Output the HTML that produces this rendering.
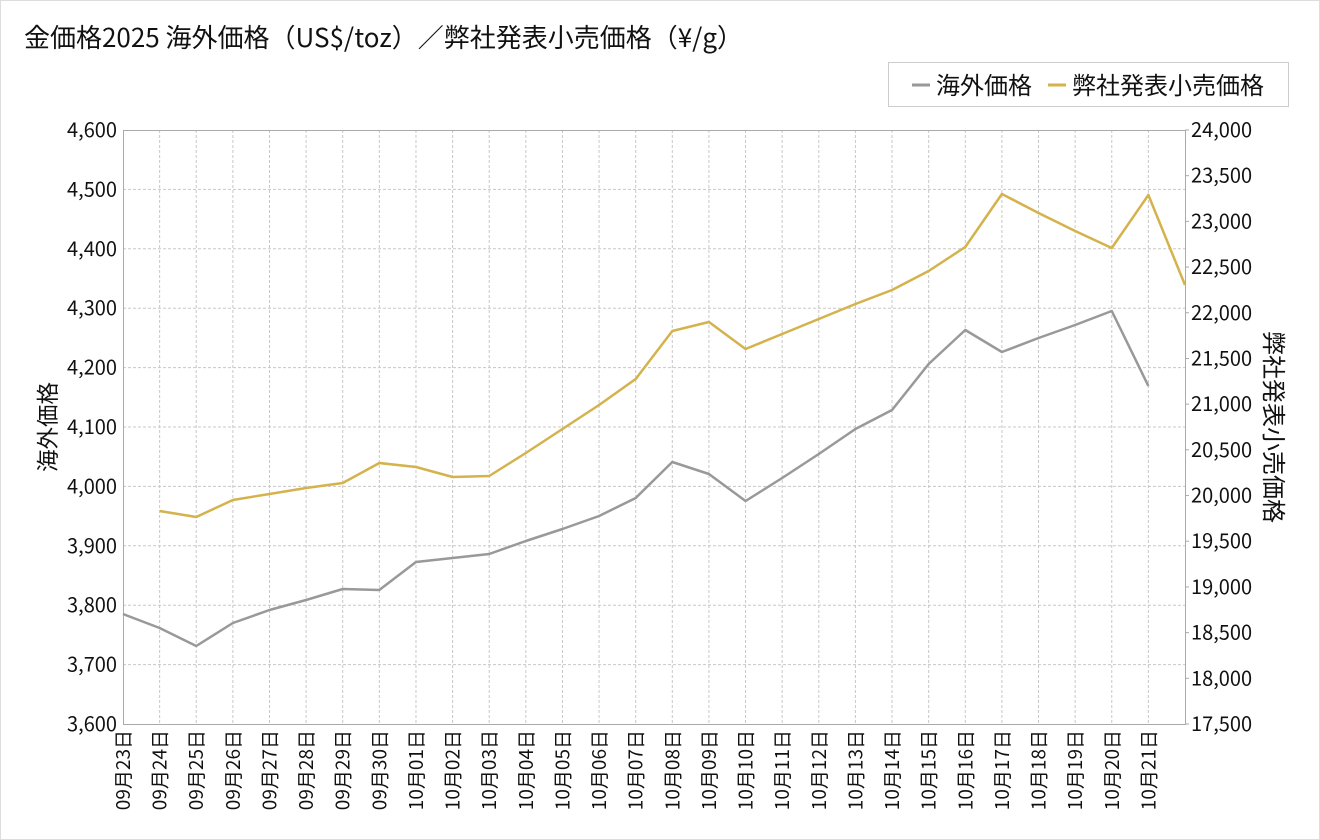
<!DOCTYPE html>
<html><head><meta charset="utf-8"><style>
html,body{margin:0;padding:0;background:#fff}
svg{display:block}
text{font-family:"Noto Sans CJK JP","Liberation Sans",sans-serif;fill:#111}
</style></head><body>
<svg width="1320" height="840" viewBox="0 0 1320 840" xmlns="http://www.w3.org/2000/svg">
<rect x="0.5" y="0.5" width="1319" height="839" fill="#fff" stroke="#ddd"/>
<text x="24" y="47" font-size="26">金価格2025 海外価格（US$/toz）／弊社発表小売価格（¥/g）</text>
<rect x="888.5" y="62.5" width="400" height="44" fill="#fff" stroke="#ccc"/>
<line x1="912" y1="85" x2="930" y2="85" stroke="#999" stroke-width="3"/>
<text x="936" y="94" font-size="24">海外価格</text>
<line x1="1048" y1="85" x2="1066" y2="85" stroke="#d4b24c" stroke-width="3"/>
<text x="1072" y="94" font-size="24">弊社発表小売価格</text>
<g id="grid" stroke="#c8c8c8" stroke-dasharray="3,2" stroke-width="1"></g>
<rect x="123.5" y="130.5" width="1062" height="594" fill="none" stroke="#aaa"/>
<g id="lab" font-size="20"></g>
<text transform="translate(56,427) rotate(-90)" font-size="22.5" text-anchor="middle">海外価格</text>
<g id="rt" font-size="24"></g>
<polyline id="gray" fill="none" stroke="#999" stroke-width="2.5" stroke-linejoin="round"/>
<polyline id="gold" fill="none" stroke="#d4b24c" stroke-width="2.5" stroke-linejoin="round"/>
</svg>
<script>
var ns="http://www.w3.org/2000/svg";
function el(p,t,a,txt){var e=document.createElementNS(ns,t);for(var k in a)e.setAttribute(k,a[k]);if(txt)e.textContent=txt;document.getElementById(p)?document.getElementById(p).appendChild(e):p.appendChild(e);return e;}
var x0=123,dx=1062/29;
for(var i=1;i<29;i++){el("grid","line",{x1:x0+i*dx,x2:x0+i*dx,y1:130,y2:724});}
for(var j=1;j<10;j++){var y=724-j*59.4;el("grid","line",{x1:123,x2:1185,y1:y,y2:y});}
for(var j=0;j<=10;j++){var y=724-j*59.4;var v=3600+j*100;el("lab","text",{x:117,y:y+7,"text-anchor":"end"},String(v).replace(/(\d)(\d{3})$/,"$1,$2"));}
for(var j=0;j<=13;j++){var y=724-j*594/13;var v=17500+j*500;el("lab","text",{x:1191,y:y+7},String(v).replace(/(\d)(\d{3})$/,"$1,$2"));el("lab","line",{x1:1185,x2:1189,y1:y,y2:y,stroke:"#aaa"});}
var names=[];
for(var d=23;d<=30;d++)names.push("09月"+d+"日");
for(var d=1;d<=21;d++)names.push("10月"+(d<10?"0"+d:d)+"日");
names.forEach(function(n,i){var x=x0+i*dx+7;el("lab","text",{transform:"translate("+x+",730) rotate(-90)","text-anchor":"end","font-size":"19"},n);});
var t=el("rt","text",{transform:"translate(1265,427) rotate(90)","text-anchor":"middle"},"弊社発表小売価格");
var g=[614,628,646,623,610,600,589,590,562,558,554,541,529,516,498,462,474,501,478,454,429,410,364,330,352,338,325,311,386];
document.getElementById("gray").setAttribute("points",g.map(function(y,i){return (x0+i*dx)+","+y}).join(" "));
var o=[511,517,500,494,488,483,463,467,477,476,453,429,405,379,331,322,349,334,319,304,290,271,247,194,213,231,248,195,285];
document.getElementById("gold").setAttribute("points",o.map(function(y,i){return (x0+(i+1)*dx)+","+y}).join(" "));
</script>
</body></html>
